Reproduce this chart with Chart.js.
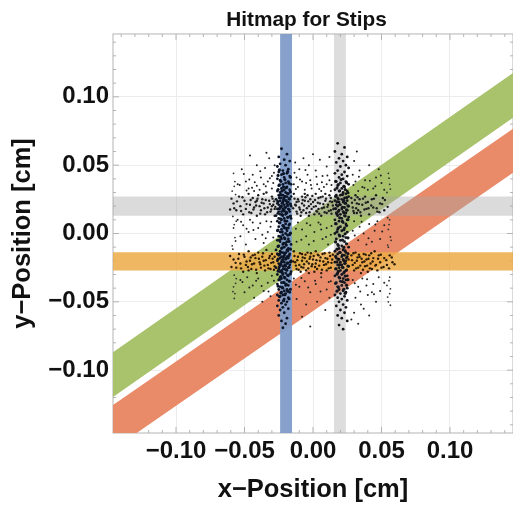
<!DOCTYPE html>
<html>
<head>
<meta charset="utf-8">
<title>Hitmap for Stips</title>
<script src="https://cdn.jsdelivr.net/npm/chart.js@4/dist/chart.umd.js"></script>
<style>
  html, body { margin: 0; padding: 0; background: #fff; }
  #wrap { width: 513px; height: 505px; }
  canvas { filter: blur(0.6px); }
</style>
</head>
<body>
<div id="wrap"><canvas id="hitmap" width="513" height="505"></canvas></div>
<script>
// strip bands, corners in cm
var bandRedX = [-0.146, 0.146, 0.146, -0.146];
var bandRedY = [-0.1255, 0.0766, 0.0445, -0.1580];
var bandGreenX = [-0.146, 0.146, 0.146, -0.146];
var bandGreenY = [-0.0869, 0.1175, 0.0847, -0.1197];
var bandBlueX = [-0.0240, -0.0153, -0.0153, -0.0240];
var bandBlueY = [0.146, 0.146, -0.146, -0.146];
var bandGreyVX = [0.0153, 0.0240, 0.0240, 0.0153];
var bandGreyVY = [0.146, 0.146, -0.146, -0.146];
var bandGreyHX = [-0.146, 0.146, 0.146, -0.146];
var bandGreyHY = [0.0270, 0.0270, 0.0130, 0.0130];
var bandOrangeX = [-0.146, 0.146, 0.146, -0.146];
var bandOrangeY = [-0.0138, -0.0138, -0.0270, -0.0270];

// hits, x and y in cm
var hitsLeftColumn = [
  [-.023,.062],[-.019,.058],[-.025,.056],[-.021,.054],[-.017,.053],[-.024,.051],[-.020,.050],[-.026,.049],[-.018,.047],[-.022,.046],
  [-.025,.045],[-.019,.044],[-.023,.043],[-.017,.042],[-.021,.041],[-.026,.040],[-.024,.039],[-.018,.038],[-.020,.037],[-.022,.036],
  [-.016,.036],[-.025,.035],[-.019,.034],[-.023,.033],[-.021,.032],[-.017,.032],[-.026,.031],[-.024,.030],[-.020,.030],[-.018,.029],
  [-.022,.028],[-.025,.028],[-.016,.027],[-.019,.027],[-.023,.026],[-.021,.026],[-.027,.025],[-.017,.025],[-.024,.024],[-.020,.024],
  [-.022,.023],[-.018,.023],[-.026,.022],[-.025,.021],[-.019,.022],[-.021,.021],[-.023,.020],[-.016,.020],[-.024,.019],[-.020,.019],
  [-.018,.018],[-.026,.018],[-.022,.018],[-.021,.017],[-.025,.016],[-.017,.016],[-.023,.016],[-.019,.015],[-.024,.014],[-.020,.014],
  [-.022,.013],[-.027,.013],[-.018,.012],[-.025,.011],[-.021,.011],[-.016,.011],[-.023,.010],[-.019,.009],[-.026,.009],[-.024,.008],
  [-.020,.007],[-.017,.007],[-.022,.006],[-.025,.005],[-.021,.004],[-.018,.004],[-.023,.003],[-.026,.002],[-.019,.002],[-.024,.001],
  [-.020,.000],[-.022,-.001],[-.017,-.001],[-.025,-.002],[-.021,-.003],[-.023,-.004],[-.018,-.004],[-.026,-.005],[-.019,-.006],[-.024,-.006],
  [-.020,-.007],[-.022,-.008],[-.016,-.008],[-.025,-.009],[-.021,-.010],[-.023,-.011],[-.018,-.011],[-.027,-.012],[-.019,-.012],[-.024,-.013],
  [-.020,-.014],[-.022,-.014],[-.017,-.015],[-.026,-.015],[-.021,-.016],[-.025,-.016],[-.023,-.017],[-.019,-.017],[-.018,-.018],[-.024,-.018],
  [-.020,-.019],[-.022,-.019],[-.026,-.020],[-.016,-.020],[-.021,-.021],[-.023,-.021],[-.025,-.022],[-.019,-.022],[-.017,-.023],[-.024,-.023],
  [-.020,-.024],[-.022,-.024],[-.027,-.025],[-.018,-.025],[-.021,-.026],[-.025,-.026],[-.023,-.027],[-.019,-.027],[-.016,-.028],[-.024,-.028],
  [-.020,-.029],[-.022,-.030],[-.026,-.030],[-.018,-.031],[-.021,-.032],[-.024,-.032],[-.023,-.033],[-.019,-.034],[-.025,-.034],[-.017,-.035],
  [-.021,-.036],[-.023,-.036],[-.026,-.037],[-.020,-.038],[-.018,-.038],[-.024,-.039],[-.022,-.040],[-.019,-.041],[-.025,-.041],[-.021,-.042],
  [-.023,-.043],[-.017,-.043],[-.020,-.044],[-.026,-.045],[-.022,-.045],[-.024,-.046],[-.018,-.047],[-.021,-.048],[-.025,-.049],[-.019,-.050],
  [-.023,-.051],[-.020,-.052],[-.026,-.053],[-.022,-.054],[-.018,-.055],[-.024,-.056],[-.021,-.058],[-.025,-.060],[-.019,-.062],[-.023,-.064],
  [-.020,-.066],[-.022,-.069]
];
var hitsLeftCore = [
  [-.0245,.0465],[-.0185,.0452],[-.0215,.0438],[-.0255,.0425],[-.0165,.0412],[-.0205,.0395],[-.0235,.0382],[-.0175,.0368],[-.0245,.0355],[-.0215,.0342],
  [-.0195,.0335],[-.0255,.0322],[-.0225,.0312],[-.0165,.0305],[-.0185,.0292],[-.0235,.0285],[-.0205,.0272],[-.0245,.0262],[-.0175,.0255],[-.0215,.0245],
  [-.0195,.0238],[-.0255,.0232],[-.0225,.0222],[-.0165,.0215],[-.0185,.0205],[-.0235,.0198],[-.0205,.0192],[-.0245,.0182],[-.0175,.0175],[-.0215,.0165],
  [-.0195,.0155],[-.0255,.0148],[-.0225,.0138],[-.0165,.0128],[-.0185,.0118],[-.0235,.0105],[-.0205,.0092],[-.0245,.0078],[-.0175,.0062],[-.0215,.0052],
  [-.0195,.0038],[-.0255,.0025],[-.0225,.0012],[-.0165,.0002],[-.0185,-.0012],[-.0235,-.0025],[-.0205,-.0038],[-.0245,-.0048],[-.0175,-.0058],[-.0215,-.0072],
  [-.0195,-.0085],[-.0255,-.0095],[-.0225,-.0105],[-.0165,-.0115],[-.0185,-.0128],[-.0235,-.0138],[-.0205,-.0145],[-.0245,-.0152],[-.0175,-.0162],[-.0215,-.0172],
  [-.0195,-.0182],[-.0255,-.0188],[-.0225,-.0198],[-.0165,-.0208],[-.0185,-.0215],[-.0235,-.0225],[-.0205,-.0232],[-.0245,-.0242],[-.0175,-.0248],[-.0215,-.0258],
  [-.0195,-.0265],[-.0255,-.0275],[-.0225,-.0285],[-.0165,-.0295],[-.0185,-.0305],[-.0235,-.0315],[-.0205,-.0325],[-.0245,-.0338],[-.0175,-.0348],[-.0215,-.0358],
  [-.0195,-.0372],[-.0255,-.0385],[-.0225,-.0395],[-.0165,-.0408],[-.0185,-.0422],[-.0235,-.0435],[-.0205,-.0448],[-.0245,-.0462],[-.0175,-.0478],[-.0215,-.0492]
];
var hitsRightColumn = [
  [.018,.066],[.023,.063],[.016,.060],[.021,.058],[.025,.056],[.019,.055],[.022,.053],[.017,.052],[.024,.050],[.020,.049],
  [.026,.048],[.018,.046],[.023,.045],[.016,.044],[.021,.043],[.025,.042],[.019,.041],[.022,.040],[.024,.038],[.017,.038],
  [.020,.037],[.026,.036],[.018,.035],[.023,.034],[.021,.033],[.016,.032],[.025,.031],[.019,.031],[.022,.030],[.024,.029],
  [.017,.028],[.020,.028],[.026,.027],[.018,.026],[.023,.026],[.021,.025],[.025,.024],[.016,.024],[.019,.023],[.022,.023],
  [.024,.022],[.017,.021],[.020,.021],[.018,.020],[.026,.020],[.023,.019],[.021,.018],[.015,.018],[.025,.017],[.019,.017],
  [.022,.016],[.024,.015],[.017,.015],[.020,.014],[.023,.013],[.018,.013],[.026,.012],[.021,.011],[.016,.010],[.025,.010],
  [.019,.009],[.022,.008],[.024,.007],[.017,.007],[.020,.005],[.023,.004],[.018,.003],[.021,.002],[.025,.001],[.016,.000],
  [.019,-.001],[.022,-.002],[.024,-.003],[.017,-.004],[.020,-.005],[.023,-.006],[.018,-.008],[.021,-.009],[.026,-.010],[.019,-.011],
  [.022,-.012],[.016,-.013],[.024,-.014],[.020,-.014],[.018,-.015],[.023,-.016],[.021,-.017],[.025,-.017],[.017,-.018],[.019,-.019],
  [.022,-.019],[.024,-.020],[.020,-.021],[.016,-.021],[.023,-.022],[.018,-.023],[.021,-.023],[.026,-.024],[.019,-.025],[.022,-.025],
  [.017,-.026],[.024,-.027],[.020,-.027],[.023,-.028],[.018,-.029],[.021,-.030],[.025,-.031],[.016,-.031],[.019,-.032],[.022,-.033],
  [.024,-.034],[.020,-.035],[.017,-.036],[.023,-.036],[.021,-.038],[.018,-.039],[.025,-.040],[.019,-.041],[.022,-.042],[.024,-.043],
  [.020,-.044],[.016,-.045],[.023,-.046],[.018,-.047],[.021,-.048],[.025,-.049],[.019,-.050],[.022,-.052],[.017,-.053],[.024,-.054],
  [.020,-.056],[.023,-.058],[.018,-.060],[.021,-.062],[.025,-.064],[.019,-.067],[.022,-.070]
];
var hitsRightCore = [
  [.0205,.0395],[.0165,.0382],[.0245,.0372],[.0185,.0358],[.0225,.0345],[.0175,.0332],[.0235,.0322],[.0195,.0312],[.0255,.0298],[.0215,.0285],
  [.0165,.0272],[.0245,.0262],[.0185,.0252],[.0225,.0242],[.0175,.0232],[.0235,.0222],[.0195,.0212],[.0255,.0202],[.0215,.0192],[.0165,.0182],
  [.0245,.0172],[.0185,.0162],[.0225,.0152],[.0175,.0142],[.0235,.0128],[.0195,.0115],[.0255,.0102],[.0215,.0088],[.0165,.0072],[.0245,.0058],
  [.0185,.0042],[.0225,.0028],[.0175,.0012],[.0235,-.0002],[.0195,-.0018],[.0255,-.0032],[.0215,-.0048],[.0165,-.0062],[.0245,-.0075],[.0185,-.0088],
  [.0225,-.0102],[.0175,-.0115],[.0235,-.0128],[.0195,-.0138],[.0255,-.0148],[.0215,-.0158],[.0165,-.0168],[.0245,-.0178],[.0185,-.0188],[.0225,-.0198],
  [.0175,-.0208],[.0235,-.0218],[.0195,-.0228],[.0255,-.0238],[.0215,-.0248],[.0165,-.0258],[.0245,-.0268],[.0185,-.0278],[.0225,-.0288],[.0175,-.0298],
  [.0235,-.0312],[.0195,-.0325],[.0255,-.0338],[.0215,-.0352],[.0165,-.0365],[.0245,-.0378],[.0185,-.0392],[.0225,-.0408],[.0175,-.0422],[.0235,-.0438]
];
var hitsUpperRow = [
  [-.058,.022],[-.056,.017],[-.054,.027],[-.053,.020],[-.051,.014],[-.050,.024],[-.049,.018],[-.047,.029],[-.046,.021],[-.045,.015],
  [-.044,.026],[-.043,.019],[-.042,.023],[-.041,.013],[-.040,.028],[-.039,.020],[-.038,.017],[-.037,.025],[-.036,.022],[-.035,.014],
  [-.034,.030],[-.033,.019],[-.032,.024],[-.031,.016],[-.030,.027],[-.029,.021],[-.028,.018],[-.028,.013],[-.014,.029],[-.013,.021],
  [-.012,.016],[-.011,.025],[-.010,.019],[-.009,.013],[-.008,.027],[-.008,.022],[-.007,.017],[-.006,.024],[-.005,.015],[-.004,.028],
  [-.003,.020],[-.003,.013],[-.002,.025],[-.001,.018],[.000,.023],[.001,.014],[.002,.029],[.002,.020],[.003,.016],[.004,.026],
  [.005,.022],[.006,.013],[.007,.027],[.008,.019],[.009,.024],[.010,.015],[.011,.021],[.012,.028],[.013,.017],[.014,.023],
  [.028,.026],[.029,.019],[.030,.015],[.031,.028],[.032,.022],[.033,.017],[.034,.025],[.035,.013],[.036,.021],[.038,.027],
  [.039,.018],[.040,.023],[.041,.014],[.043,.025],[.044,.019],[.046,.028],[.047,.016],[.049,.022],[.051,.026],[.052,.017],
  [-.041,.024],[-.036,.029],[-.030,.020],[-.026,.024],[-.012,.023],[-.006,.029],[.004,.018],[.009,.029],[.013,.026],[.032,.015]
];
var hitsUpperDense = [
  [-.0575,.0185],[-.0555,.0235],[-.0525,.0165],[-.0515,.0265],[-.0485,.0215],[-.0465,.0155],[-.0455,.0245],[-.0435,.0175],[-.0415,.0205],[-.0405,.0255],
  [-.0385,.0145],[-.0375,.0225],[-.0355,.0185],[-.0345,.0245],[-.0335,.0155],[-.0315,.0215],[-.0305,.0175],[-.0295,.0255],[-.0285,.0235],[-.0275,.0195],
  [-.0145,.0185],[-.0135,.0255],[-.0125,.0205],[-.0115,.0145],[-.0105,.0235],[-.0095,.0175],[-.0085,.0155],[-.0075,.0245],[-.0065,.0205],[-.0055,.0265],
  [-.0045,.0185],[-.0035,.0235],[-.0025,.0155],[-.0015,.0215],[-.0005,.0275],[.0005,.0195],[.0015,.0245],[.0025,.0165],[.0035,.0225],[.0045,.0145],
  [.0055,.0265],[.0065,.0185],[.0075,.0215],[.0085,.0155],[.0095,.0255],[.0105,.0195],[.0115,.0165],[.0125,.0235],[.0135,.0145],[.0145,.0205],
  [.0285,.0225],[.0295,.0165],[.0305,.0245],[.0315,.0185],[.0325,.0265],[.0335,.0215],[.0345,.0155],[.0365,.0255],[.0375,.0175],[.0385,.0225],
  [.0405,.0185],[.0425,.0205],[.0445,.0255],[.0465,.0185],[.0485,.0155],[.0505,.0215],[.0525,.0245],[.0545,.0195],[-.0595,.0255],[-.0605,.0175]
];
var hitsLowerRow = [
  [-.058,-.019],[-.056,-.025],[-.054,-.015],[-.053,-.022],[-.051,-.028],[-.050,-.017],[-.049,-.023],[-.047,-.013],[-.046,-.020],[-.045,-.026],
  [-.044,-.016],[-.043,-.022],[-.042,-.018],[-.041,-.029],[-.040,-.014],[-.039,-.021],[-.038,-.025],[-.037,-.017],[-.036,-.020],[-.035,-.027],
  [-.034,-.012],[-.033,-.023],[-.032,-.018],[-.031,-.026],[-.030,-.015],[-.029,-.021],[-.028,-.024],[-.028,-.017],[-.014,-.013],[-.013,-.021],
  [-.012,-.026],[-.011,-.017],[-.010,-.023],[-.009,-.028],[-.008,-.015],[-.008,-.020],[-.007,-.025],[-.006,-.018],[-.005,-.027],[-.004,-.014],
  [-.003,-.022],[-.003,-.029],[-.002,-.017],[-.001,-.024],[.000,-.019],[.001,-.028],[.002,-.013],[.002,-.022],[.003,-.026],[.004,-.016],
  [.005,-.020],[.006,-.029],[.007,-.015],[.008,-.023],[.009,-.018],[.010,-.027],[.011,-.021],[.012,-.014],[.013,-.025],[.014,-.019],
  [.028,-.016],[.029,-.023],[.030,-.027],[.031,-.014],[.032,-.020],[.033,-.025],[.034,-.017],[.035,-.029],[.036,-.021],[.037,-.015],
  [.038,-.024],[.039,-.019],[.040,-.028],[.041,-.016],[.042,-.022],[.043,-.026],[.044,-.018],[.045,-.013],[.046,-.023],[.047,-.027],
  [.048,-.016],[.049,-.021],[.050,-.025],[.052,-.018],[.054,-.023],[.056,-.016],[.058,-.021],[-.026,-.015],[-.047,-.027],[.026,-.019]
];
var hitsLowerDense = [
  [-.0565,-.0215],[-.0545,-.0185],[-.0525,-.0255],[-.0505,-.0155],[-.0485,-.0205],[-.0475,-.0245],[-.0455,-.0175],[-.0445,-.0225],[-.0425,-.0155],[-.0415,-.0265],
  [-.0395,-.0185],[-.0385,-.0225],[-.0365,-.0145],[-.0355,-.0235],[-.0345,-.0195],[-.0325,-.0255],[-.0315,-.0165],[-.0305,-.0215],[-.0295,-.0185],[-.0285,-.0265],
  [-.0145,-.0205],[-.0135,-.0165],[-.0125,-.0235],[-.0115,-.0195],[-.0105,-.0265],[-.0095,-.0145],[-.0085,-.0245],[-.0075,-.0175],[-.0065,-.0225],[-.0055,-.0155],
  [-.0045,-.0205],[-.0035,-.0255],[-.0025,-.0185],[-.0015,-.0145],[-.0005,-.0225],[.0005,-.0165],[.0015,-.0245],[.0025,-.0195],[.0035,-.0155],[.0045,-.0235],
  [.0055,-.0175],[.0065,-.0265],[.0075,-.0205],[.0085,-.0145],[.0095,-.0225],[.0105,-.0185],[.0115,-.0255],[.0125,-.0165],[.0135,-.0215],[.0145,-.0155],
  [.0285,-.0195],[.0295,-.0145],[.0305,-.0215],[.0315,-.0255],[.0325,-.0175],[.0335,-.0155],[.0345,-.0235],[.0355,-.0185],[.0365,-.0265],[.0375,-.0205],
  [.0385,-.0155],[.0395,-.0235],[.0405,-.0185],[.0415,-.0255],[.0425,-.0145],[.0435,-.0205],[.0455,-.0235],[.0475,-.0185],[.0495,-.0155],[.0515,-.0245],
  [.0535,-.0195],[.0555,-.0255],[.0575,-.0175],[.0595,-.0225],[-.0595,-.0245],[-.0605,-.0165]
];
var hitsFringeColumns = [
  [-.058,.044],[-.057,.038],[-.059,.031],[-.056,.009],[-.058,.004],[-.057,-.003],[-.059,-.009],[-.056,-.033],[-.058,-.039],[-.057,-.044],
  [.055,.044],[.056,.036],[.054,.030],[.056,.010],[.055,.003],[.057,-.005],[.055,-.010],[.056,-.032],[.054,-.038],[.056,-.044],[.055,-.050],
  [-.0575,.0345],[-.0565,.0285],[-.0585,.0125],[-.0575,.0065],[-.0565,-.0055],[-.0585,-.0115],[-.0575,-.0305],[-.0565,-.0365],[-.0585,-.0425],[-.0575,-.0475],
  [.0555,.0405],[.0565,.0325],[.0545,.0115],[.0555,.0065],[.0565,-.0025],[.0545,-.0085],[.0555,-.0345],[.0565,-.0405],[.0545,-.0465],[.0565,-.0525]
];
var hitsScatter = [
  [-.046,.057],[-.041,.050],[-.038,.041],[-.052,.047],[-.049,.038],[-.044,.043],[-.035,.048],[-.032,.055],[-.030,.042],[-.036,.036],
  [-.033,.038],[-.047,.033],[-.041,.035],[-.028,.050],[-.055,.036],[-.039,.032],[-.030,.033],[-.029,.037],[-.043,.031],[-.034,.059],
  [-.013,.052],[-.010,.047],[-.007,.055],[-.003,.050],[-.012,.041],[-.008,.038],[-.004,.043],[.002,.046],[.005,.054],[.007,.042],
  [.010,.049],[.012,.039],[.003,.036],[-.001,.033],[-.006,.032],[.008,.034],[.013,.031],[-.011,.034],[-.014,.036],[-.002,.039],
  [.006,.031],[.010,.036],[.000,.058],[.012,.056],[-.005,.037],[.030,.053],[.034,.046],[.038,.039],[.041,.050],[.046,.041],
  [.031,.038],[.036,.034],[.044,.033],[.050,.037],[.033,.031],[.029,.043],[.040,.032],[.048,.047],[.052,.032],[.032,.060],
  [-.055,.010],[-.051,.006],[-.047,.001],[-.044,.008],[-.040,.004],[-.037,-.001],[-.034,.009],[-.031,.005],[-.029,-.003],[-.042,-.004],
  [-.053,-.002],[-.049,-.008],[-.036,-.007],[-.033,.001],[-.046,.010],[-.011,.008],[-.008,.003],[-.005,-.002],[-.002,.006],[.001,.001],
  [.004,.008],[.007,-.004],[.010,.004],[.013,-.001],[-.012,-.006],[-.003,-.008],[.006,.003],[.011,-.008],[.030,.009],[.034,.005],
  [.037,.000],[.041,.007],[.045,.002],[.049,-.004],[.052,.006],[.033,-.005],[.039,-.008],[.047,.009],[.029,.002],[.043,-.006],
  [-.053,-.034],[-.048,-.032],[-.044,-.038],[-.040,-.033],[-.036,-.042],[-.033,-.036],[-.030,-.031],[-.050,-.043],[-.043,-.047],[-.037,-.050],
  [-.031,-.046],[-.014,-.033],[-.010,-.039],[-.006,-.035],[-.002,-.043],[.002,-.037],[.006,-.032],[.010,-.041],[.013,-.035],[-.012,-.048],
  [-.005,-.052],[.003,-.050],[.009,-.056],[-.008,-.061],[.012,-.047],[.029,-.034],[.033,-.039],[.036,-.033],[.040,-.045],[.044,-.037],
  [.048,-.032],[.031,-.047],[.035,-.052],[.039,-.038],[.043,-.043],[.049,-.042],[.030,-.058],[.037,-.055],[.046,-.050],[.052,-.036],
  [.028,-.063],[.033,-.066],[.041,-.060],[-.002,-.068],
  [-.0505,.0435],[-.0465,.0395],[-.0425,.0375],[-.0385,.0455],[-.0345,.0345],[-.0315,.0405],[-.0285,.0445],[-.0535,.0355],[-.0485,.0315],[-.0445,.0335],
  [-.0135,.0445],[-.0095,.0395],[-.0055,.0465],[-.0015,.0355],[.0025,.0415],[.0065,.0375],[.0105,.0425],[.0135,.0355],[-.0125,.0325],[.0045,.0325],
  [.0295,.0355],[.0335,.0415],[.0375,.0335],[.0415,.0385],[.0455,.0345],[.0495,.0425],[-.0525,.0085],[-.0485,.0035],[-.0435,.0025],[-.0385,.0075],
  [-.0345,-.0035],[-.0305,.0085],[-.0125,.0035],[-.0085,-.0045],[-.0045,.0075],[.0005,-.0055],[.0055,.0065],[.0095,-.0025],[.0135,.0055],[.0305,-.0015],
  [.0355,.0085],[.0405,-.0035],[.0455,.0065],[.0505,.0015],[-.0515,-.0355],[-.0465,-.0395],[-.0415,-.0345],[-.0375,-.0385],[-.0325,-.0425],[-.0285,-.0345],
  [-.0125,-.0375],[-.0085,-.0325],[-.0035,-.0395],[.0015,-.0345],[.0055,-.0425],[.0115,-.0355],[.0305,-.0365],[.0345,-.0425],[.0395,-.0335],[.0445,-.0445]
];

var tickColor = "#b4b4b4";
var gridColor = "#ececec";

var isMajor = function(v) {
  return Math.round(v * 100) % 5 === 0;
};

var tickLabel = function(v) {
  if (!isMajor(v)) return "";
  var t = Math.abs(v).toFixed(2);
  return v < -0.001 ? "\u2212" + t : t;
};

var zip = function(xs, ys) {
  return xs.map(function(x, i) { return {x: x, y: ys[i]}; });
};

var band = function(xs, ys, color) {
  return {type: "line", data: zip(xs, ys), fill: "shape", backgroundColor: color, borderWidth: 0, pointRadius: 0};
};

var hits = function(list, radius, color) {
  return {
    type: "scatter",
    data: list.map(function(p) { return {x: p[0], y: p[1]}; }),
    pointRadius: radius,
    pointBorderWidth: 0,
    backgroundColor: color
  };
};

// frame and inward ticks, Mathematica style
var frameTicks = {
  id: "frameTicks",
  afterLayout: function(chart) {
    // title sits a little left of the frame centre in the original
    chart.titleBlock.left -= 13;
  },
  beforeDatasetsDraw: function(chart) {
    var c = chart.ctx, a = chart.chartArea;
    c.save();
    c.strokeStyle = tickColor;
    c.lineWidth = 1;
    c.strokeRect(a.left, a.top, a.right - a.left, a.bottom - a.top);
    chart.scales.x.ticks.forEach(function(t) {
      var px = chart.scales.x.getPixelForValue(t.value), len = isMajor(t.value) ? 6 : 3;
      c.beginPath();
      c.moveTo(px, a.bottom); c.lineTo(px, a.bottom - len);
      c.moveTo(px, a.top); c.lineTo(px, a.top + len);
      c.stroke();
    });
    chart.scales.y.ticks.forEach(function(t) {
      var py = chart.scales.y.getPixelForValue(t.value), len = isMajor(t.value) ? 6 : 3;
      c.beginPath();
      c.moveTo(a.left, py); c.lineTo(a.left + len, py);
      c.moveTo(a.right, py); c.lineTo(a.right - len, py);
      c.stroke();
    });
    c.restore();
  }
};

var axisOptions = function(titleText, fitKey, fitSize, titlePadding) {
  return {
    type: "linear",
    min: -0.146,
    max: 0.146,
    afterFit: function(s) {
      s[fitKey] = fitSize;
      s.paddingLeft = 0; s.paddingRight = 0; s.paddingTop = 0; s.paddingBottom = 0;
    },
    title: {display: true, text: titleText, color: "#111", font: {family: "Liberation Sans", size: 25.5, weight: "bold"}, padding: titlePadding},
    border: {display: false},
    grid: {
      drawTicks: false,
      color: function(ctx) { return ctx.tick && isMajor(ctx.tick.value) ? gridColor : "rgba(0,0,0,0)"; }
    },
    ticks: {
      stepSize: 0.01,
      includeBounds: false,
      autoSkip: false,
      maxRotation: 0,
      padding: 4,
      color: "#111",
      font: {family: "Liberation Sans", size: 24, weight: "bold"},
      callback: tickLabel
    }
  };
};

new Chart(document.getElementById("hitmap"), {
  type: "scatter",
  data: {
    datasets: [
      hits(hitsLeftCore, 1.6, "#0c1526"),
      hits(hitsLeftColumn, 1.4, "#0c1526"),
      hits(hitsRightCore, 1.6, "#14161c"),
      hits(hitsRightColumn, 1.4, "#14161c"),
      hits(hitsUpperDense, 1.2, "#222"),
      hits(hitsUpperRow, 1.2, "#1c1c1c"),
      hits(hitsLowerDense, 1.2, "#2a1c08"),
      hits(hitsLowerRow, 1.2, "#2a1c08"),
      hits(hitsFringeColumns, 0.9, "#333"),
      hits(hitsScatter, 1.0, "#222"),
      band(bandBlueX, bandBlueY, "rgba(128,156,200,0.95)"),
      band(bandGreyVX, bandGreyVY, "rgba(170,170,170,0.4)"),
      band(bandOrangeX, bandOrangeY, "rgba(236,170,70,0.85)"),
      band(bandGreyHX, bandGreyHY, "rgba(165,165,165,0.4)"),
      band(bandGreenX, bandGreenY, "#a9c26c"),
      band(bandRedX, bandRedY, "#e98a68")
    ]
  },
  plugins: [frameTicks],
  options: {
    responsive: false,
    animation: false,
    layout: {autoPadding: false, padding: {left: 8, right: 0, top: 0, bottom: 0}},
    plugins: {
      legend: {display: false},
      tooltip: {enabled: false},
      title: {
        display: true,
        fullSize: false,
        text: "Hitmap for Stips",
        color: "#111",
        font: {family: "Liberation Sans", size: 20.8, weight: "bold"},
        padding: {top: 8, bottom: 1}
      }
    },
    scales: {
      x: axisOptions("x\u2212Position [cm]", "height", 72, {top: 2, bottom: 0}),
      y: axisOptions("y\u2212Position [cm]", "width", 105, {top: 0, bottom: 2})
    }
  }
});
</script>
</body>
</html>
